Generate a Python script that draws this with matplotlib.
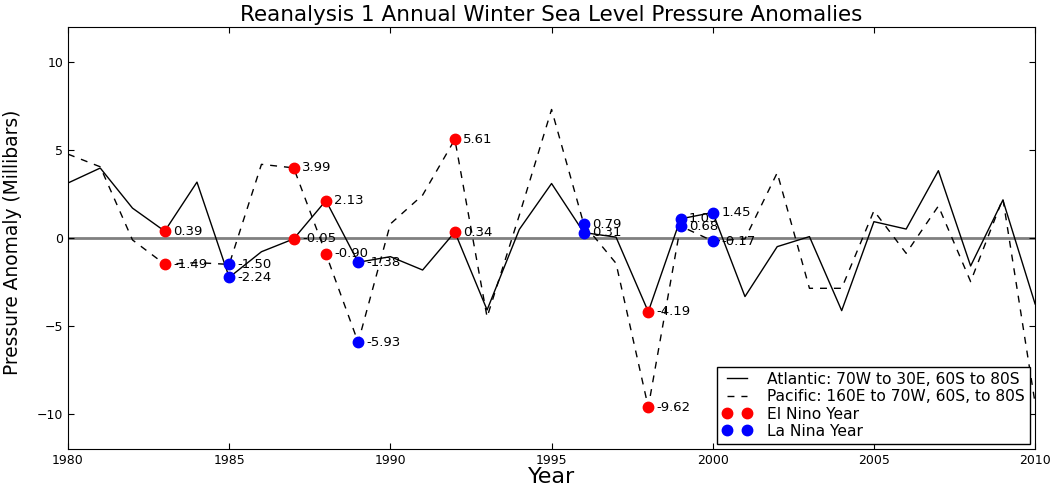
import matplotlib

matplotlib.use("Agg")
import matplotlib.pyplot as plt

years = list(range(1980, 2011))

# Winter mean SLP anomalies (mb) for the two sectors
atlantic = [3.13, 3.98, 1.70, 0.39, 3.18, -2.24, -0.78, -0.05, 2.13, -1.38,
            -1.06, -1.82, 0.34, -4.09, 0.49, 3.10, 0.31, 0.05, -4.19, 1.09,
            1.45, -3.33, -0.49, 0.08, -4.13, 0.93, 0.51, 3.83, -1.59, 2.16,
            -3.75]
pacific = [4.77, 4.05, -0.11, -1.49, -1.40, -1.50, 4.19, 3.99, -0.90, -5.93,
           0.80, 2.44, 5.61, -4.50, 1.30, 7.31, 0.79, -1.44, -9.62, 0.68,
           -0.17, -0.05, 3.71, -2.86, -2.86, 1.55, -0.87, 1.82, -2.48, 2.25,
           -9.40]

el_nino_years = [1983, 1987, 1988, 1992, 1998]
la_nina_years = [1985, 1989, 1996, 1999, 2000]

plt.rcParams["font.family"] = "DejaVu Sans"

fig = plt.figure(figsize=(10.53, 4.86), dpi=100)
ax = fig.add_axes([0.0646, 0.0761, 0.9184, 0.8683])

ax.axhline(0, color="#808080", linewidth=2, zorder=1)
ax.plot(years, atlantic, "k-", linewidth=1, label="Atlantic: 70W to 30E, 60S to 80S")
ax.plot(years, pacific, "k--", linewidth=1, dashes=(5, 5),
        label="Pacific: 160E to 70W, 60S, to 80S")


def mark(event_years, color, label):
    xs, ys = [], []
    for yr in event_years:
        i = years.index(yr)
        for v in (atlantic[i], pacific[i]):
            xs.append(yr)
            ys.append(v)
            ax.annotate("%.2f" % v, (yr, v), xytext=(6, 0), textcoords="offset points",
                        va="center", ha="left", fontsize=9.5)
    ax.plot(xs, ys, "o", color=color, markersize=7.5, markeredgecolor=color,
            linestyle="none", label=label, zorder=3)


mark(el_nino_years, "red", "El Nino Year")
mark(la_nina_years, "blue", "La Nina Year")

ax.set_xlim(1980, 2010)
ax.set_ylim(-12, 12)
ax.set_xticks(range(1980, 2011, 5))
ax.set_yticks([-10, -5, 0, 5, 10])
ax.tick_params(direction="in", top=True, right=True, labelsize=9, length=4)
ax.set_title("Reanalysis 1 Annual Winter Sea Level Pressure Anomalies", fontsize=15.5, pad=4)
ax.set_xlabel("Year", fontsize=16, labelpad=0)
ax.set_ylabel("Pressure Anomaly (Millibars)", fontsize=13.4)
ax.yaxis.set_label_coords(-0.048, 0.49)

leg = ax.legend(loc="lower right", numpoints=2, fontsize=11.2, fancybox=False,
                framealpha=1, edgecolor="black", borderaxespad=0.35, borderpad=0.3,
                labelspacing=0.15, handlelength=1.9, handletextpad=1.0)
leg.get_frame().set_linewidth(1)

fig.savefig("out.png", dpi=100)
